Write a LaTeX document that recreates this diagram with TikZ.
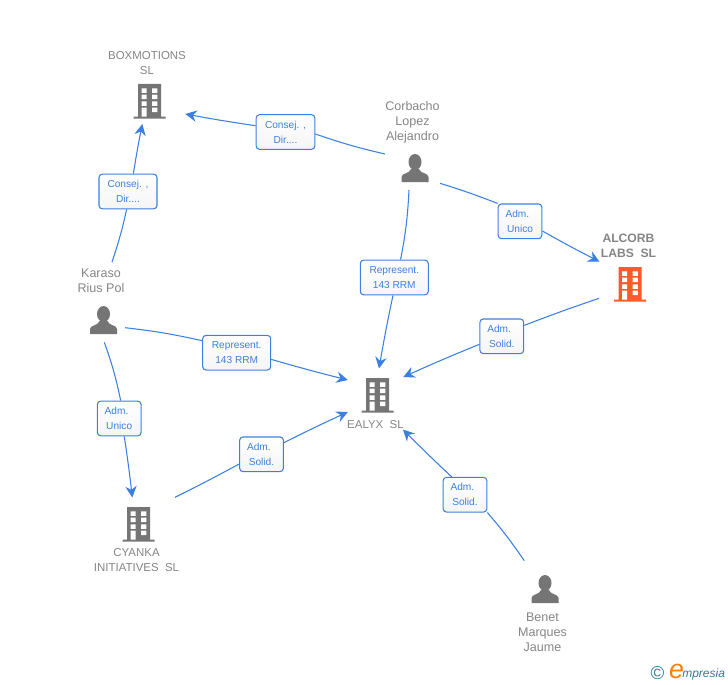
\documentclass[tikz,border=0pt]{standalone}
\usepackage{fontspec}
\setmainfont{Liberation Sans}
\usetikzlibrary{arrows.meta}
\definecolor{relblue}{HTML}{3B80E0}
\definecolor{icongray}{HTML}{757575}
\definecolor{txtgray}{HTML}{858585}
\definecolor{alcorange}{HTML}{FF5A2B}
\definecolor{logoblue}{HTML}{2F7C96}
\tikzstyle{relbox}=[rectangle, rounded corners=2.5pt, draw=relblue, top color=white,
                    bottom color=black!4, line width=0.8pt, text=relblue, inner sep=0pt,
                    align=center, minimum height=26pt, minimum width=32.8pt,
                    font=\fontsize{7.6}{11.3}\selectfont]
\tikzstyle{corpname}=[align=center, text=txtgray, inner sep=0pt, font=\fontsize{8.6}{11}\selectfont]
\tikzstyle{mainname}=[corpname, font=\fontsize{9.1}{11.2}\selectfont\bfseries]
\tikzstyle{persname}=[align=center, text=txtgray, inner sep=0pt, font=\fontsize{9.4}{11.2}\selectfont]
\tikzstyle{pline}=[-, relblue, line width=0.8pt]
\tikzstyle{parrow}=[pline, -{Stealth[length=8.5pt,width=8.5pt,inset=2.8pt]}]
\tikzset{
  bldg/.pic={
    \fill[pic actions] (-11.5,-17) rectangle (11.5,16) (-16,15.5) rectangle (16,17.5);
    \foreach \yy in {-12.7,-6.3,0.3} {
      \fill[white] (-8,\yy) rectangle ++(5.2,4.5) (2.6,\yy) rectangle ++(5.2,4.5);
    }
    \fill[white] (-8,6.7) rectangle (-2.8,15.5) (2.6,6.7) rectangle (7.8,11.2);
  },
  pers/.pic={
    \fill[icongray] (0,-6) ellipse [x radius=6.5, y radius=8];
    \fill[icongray] (-13.5,14) -- (-13.5,9) .. controls (-13.5,5) and (-5,5.5) .. (-4,1)
      -- (4,1) .. controls (5,5.5) and (13.5,5) .. (13.5,9) -- (13.5,14) -- cycle;
  }
}

\begin{document}
\begin{tikzpicture}[x=0.75pt, y=-0.75pt]
\useasboundingbox (0,0) rectangle (728,685);

% companies
\pic[icongray] at (149.5,101) {bldg};
\node (BOX) [corpname] at (147,63) {BOXMOTIONS\\SL};
\pic[alcorange] at (630,284) {bldg};
\node (ALC) [mainname] at (628.5,245.5) {ALCORB\\LABS\ \ SL};
\pic[icongray] at (377.5,395) {bldg};
\node (EAL) [corpname] at (375.5,424.5) {EALYX\ \ SL};
\pic[icongray] at (138.5,524) {bldg};
\node (CYA) [corpname] at (136.5,560) {CYANKA\\INITIATIVES\ \ SL};

% people
\pic at (415,168) {pers};
\node (CORB) [persname] at (412.5,122) {Corbacho\\Lopez\\Alejandro};
\pic at (103.5,320) {pers};
\node (KAR) [persname] at (101,280.5) {Karaso\\Rius Pol};
\pic at (545,589) {pers};
\node (BEN) [persname] at (542.5,632) {Benet\\Marques\\Jaume};

% free ends of the connectors
\coordinate (CORBw) at (385,154);
\coordinate (CORBe) at (440,183.3);
\coordinate (CORBs) at (409,190);
\coordinate (BOXe) at (185.3,114);
\coordinate (BOXs) at (142.3,124);
\coordinate (ALCw) at (599.5,261.7);
\coordinate (ALCs) at (599,298.3);
\coordinate (KARn) at (112,262);
\coordinate (KARe) at (125,327.7);
\coordinate (KARs) at (104.3,342.3);
\coordinate (EALn) at (379,368.5);
\coordinate (EALne) at (403.3,377);
\coordinate (EALw) at (347.8,380);
\coordinate (EALsw) at (347.8,412);
\coordinate (EALse) at (403,429.5);
\coordinate (CYAn) at (132.3,497.5);
\coordinate (CYAe) at (175,497.3);
\coordinate (BENn) at (524.3,560.7);

% relations
\node (RBOXC) [relbox, minimum width=44pt] at (285.5,132) {Consej. ,\\Dir....};
\draw[pline] (CORBw) to[bend left=3] ([yshift=-1.5pt]RBOXC.east);
\draw[parrow] ([yshift=4.7pt]RBOXC.west) to[bend left=1] (BOXe);

\node (RBOXK) [relbox, minimum width=43.5pt] at (128,191.5) {Consej. ,\\Dir....};
\draw[pline] (KARn) to[bend right=3] ([xshift=-1pt]RBOXK.south);
\draw[parrow] ([xshift=4pt]RBOXK.north) to[bend left=1] (BOXs);

\node (RALCC) [relbox] at (520,221.3) {Adm.\kern4pt\\Unico};
\draw[pline] (CORBe) to[bend left=2] (RALCC.north west);
\draw[parrow] ([yshift=-7.3pt]RALCC.east) to[bend right=1] (ALCw);

\node (REALC) [relbox, minimum width=51pt] at (394.3,277.5) {Represent.\\143 RRM};
\draw[pline] (CORBs) to[bend left=4] ([xshift=4.7pt]REALC.north);
\draw[parrow] ([xshift=-1pt]REALC.south) to[bend right=1] (EALn);

\node (REALA) [relbox] at (501.8,336.3) {Adm.\kern4pt\\Solid.};
\draw[pline] (ALCs) to[bend right=1] ([yshift=8.2pt]REALA.east);
\draw[parrow] ([yshift=-6pt]REALA.west) to[bend right=1] (EALne);

\node (REALK) [relbox, minimum width=51pt] at (236.7,352.7) {Represent.\\143 RRM};
\draw[pline] (KARe) to[bend left=3] ([yshift=9pt]REALK.west);
\draw[parrow] ([yshift=-5pt]REALK.east) to[bend right=1] (EALw);

\node (RCYAK) [relbox] at (119.2,418.5) {Adm.\kern4pt\\Unico};
\draw[pline] (KARs) to[bend left=4] ([xshift=1.1pt]RCYAK.north);
\draw[parrow] ([xshift=3.8pt]RCYAK.south) to[bend left=1] (CYAn);

\node (REALY) [relbox] at (261.5,454.3) {Adm.\kern4pt\\Solid.};
\draw[pline] (CYAe) to[bend right=1] ([yshift=-7.3pt]REALY.west);
\draw[parrow] ([yshift=8.7pt]REALY.east) to[bend left=1] (EALsw);

\node (REALB) [relbox] at (465,494.7) {Adm.\kern4pt\\Solid.};
\draw[pline] (BENn) to[bend right=3] (REALB.south east);
\draw[parrow] ([xshift=-10pt]REALB.north) to[bend left=1] (EALse);

% logo
\node (COPY) [text=logoblue, inner sep=0pt, font=\fontsize{14}{14}\selectfont] at (657.5,673.5) {©};
\node (LOGOE) [text=orange, inner sep=0pt, font=\fontsize{20}{20}\selectfont\itshape] at (676.5,671) {e};
\node (LOGO) [text=logoblue, inner sep=0pt, anchor=west, font=\fontsize{9}{10}\selectfont\itshape] at (682,674.5) {mpresia};

\end{tikzpicture}
\end{document}
